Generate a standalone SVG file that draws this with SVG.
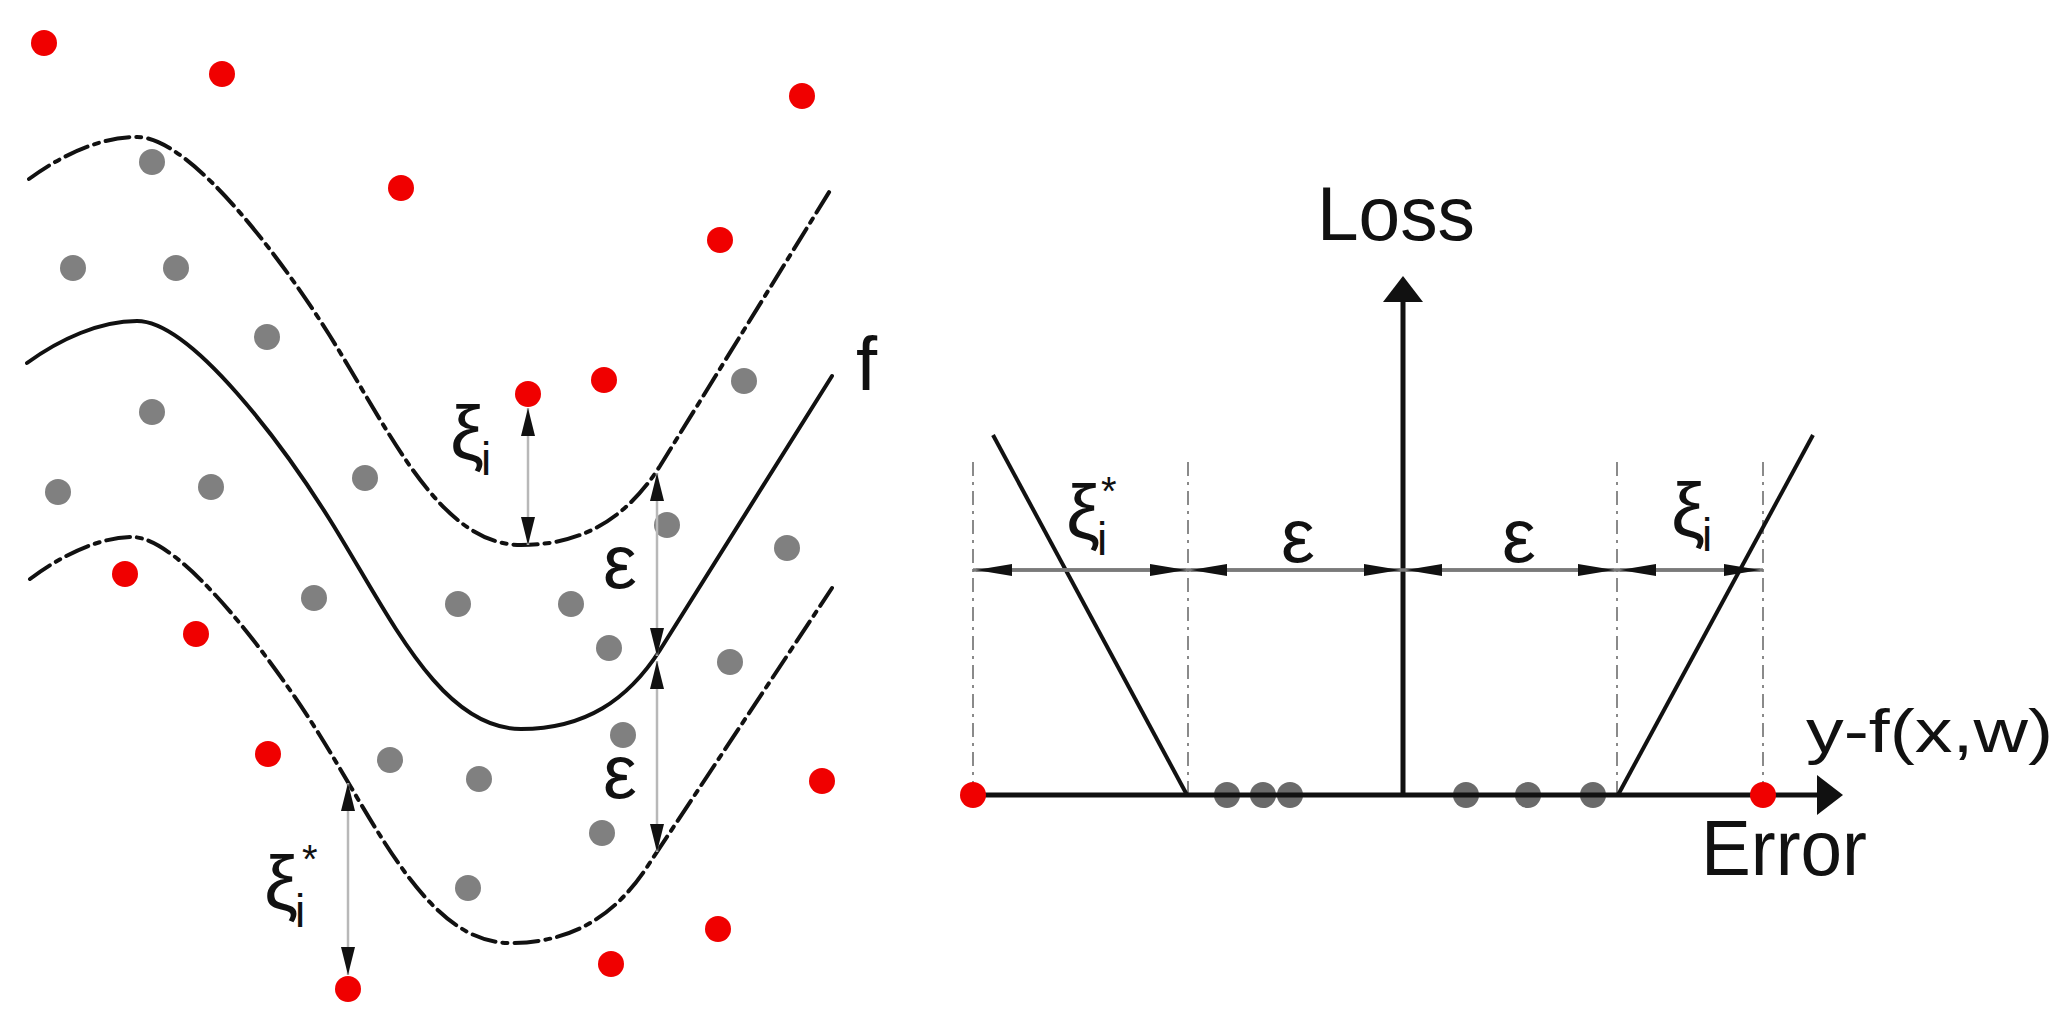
<svg xmlns="http://www.w3.org/2000/svg" width="2065" height="1034" viewBox="0 0 2065 1034">
<defs>
<style>
.red{fill:#f00000}
.gry{fill:#808080}
.gax{fill:#6a6a6a}
.curve{fill:none;stroke:#111;stroke-width:4;stroke-linecap:round}
.dd{stroke-dasharray:24 7 5 7}
.dim{stroke:#b8b8b8;stroke-width:2.5}
.hdim{stroke:#7a7a7a;stroke-width:3.5}
.guide{stroke:#8a8a8a;stroke-width:2;stroke-dasharray:14 6 3 6}
.ax{stroke:#111;stroke-width:5}
.diag{stroke:#111;stroke-width:4}
text{font-family:"Liberation Sans",Arial,sans-serif;fill:#111}
.big{font-size:76px}
.sub{font-size:46px}
.sup{font-size:40px}
</style>
<marker id="ahS" viewBox="0 0 28 14" refX="28" refY="7" markerWidth="28" markerHeight="14" markerUnits="userSpaceOnUse" orient="auto-start-reverse"><path d="M0,0 L28,7 L0,14 z" fill="#111"/></marker>
<marker id="ahD" viewBox="0 0 36 12" refX="36" refY="6" markerWidth="36" markerHeight="12" markerUnits="userSpaceOnUse" orient="auto-start-reverse"><path d="M0,0 L36,6 L0,12 z" fill="#111"/></marker>
<marker id="ahB" viewBox="0 0 26 40" refX="6" refY="20" markerWidth="26" markerHeight="40" markerUnits="userSpaceOnUse" orient="auto"><path d="M0,0 L26,20 L0,40 z" fill="#111"/></marker>
</defs>
<rect width="2065" height="1034" fill="#fff"/>

<g id="left-panel">
  <g id="curves">
    <path id="upper-margin" class="curve dd" d="M29,179 C62,155 100,137 137,137 C192,137 285,264 330,336 C390,432 440,545 521,545 C585,545 628,516 660,466 L831,189"/>
    <path id="f-curve" class="curve" d="M27,363 C60,339 100,321 137,321 C192,321 285,448 330,520 C390,616 440,729 521,729 C585,729 628,700 660,650 L832,376"/>
    <path id="lower-margin" class="curve dd" d="M30,579 C62,555 100,537 132,537 C182,537 274,662 319,734 C379,830 429,943 510,943 C574,943 617,914 649,864 L832,588"/>
  </g>
  <g id="inside-points">
    <circle class="gry" cx="152" cy="162" r="13"/>
    <circle class="gry" cx="73" cy="268" r="13"/>
    <circle class="gry" cx="176" cy="268" r="13"/>
    <circle class="gry" cx="267" cy="337" r="13"/>
    <circle class="gry" cx="152" cy="412" r="13"/>
    <circle class="gry" cx="58" cy="492" r="13"/>
    <circle class="gry" cx="211" cy="487" r="13"/>
    <circle class="gry" cx="365" cy="478" r="13"/>
    <circle class="gry" cx="744" cy="381" r="13"/>
    <circle class="gry" cx="667" cy="525" r="13"/>
    <circle class="gry" cx="787" cy="548" r="13"/>
    <circle class="gry" cx="314" cy="598" r="13"/>
    <circle class="gry" cx="458" cy="604" r="13"/>
    <circle class="gry" cx="571" cy="604" r="13"/>
    <circle class="gry" cx="609" cy="648" r="13"/>
    <circle class="gry" cx="730" cy="662" r="13"/>
    <circle class="gry" cx="623" cy="735" r="13"/>
    <circle class="gry" cx="390" cy="760" r="13"/>
    <circle class="gry" cx="479" cy="779" r="13"/>
    <circle class="gry" cx="602" cy="833" r="13"/>
    <circle class="gry" cx="468" cy="888" r="13"/>
  </g>
  <g id="outside-points">
    <circle class="red" cx="44" cy="43" r="13"/>
    <circle class="red" cx="222" cy="74" r="13"/>
    <circle class="red" cx="802" cy="96" r="13"/>
    <circle class="red" cx="401" cy="188" r="13"/>
    <circle class="red" cx="720" cy="240" r="13"/>
    <circle class="red" cx="604" cy="380" r="13"/>
    <circle class="red" cx="528" cy="394" r="13"/>
    <circle class="red" cx="125" cy="574" r="13"/>
    <circle class="red" cx="196" cy="634" r="13"/>
    <circle class="red" cx="268" cy="754" r="13"/>
    <circle class="red" cx="822" cy="781" r="13"/>
    <circle class="red" cx="718" cy="929" r="13"/>
    <circle class="red" cx="611" cy="964" r="13"/>
    <circle class="red" cx="348" cy="989" r="13"/>
  </g>
  <g id="left-connectors">
    <line class="dim" x1="528" y1="408" x2="528" y2="545" marker-start="url(#ahS)" marker-end="url(#ahS)"/>
    <line class="dim" x1="657" y1="473" x2="657" y2="656" marker-start="url(#ahS)" marker-end="url(#ahS)"/>
    <line class="dim" x1="657" y1="661" x2="657" y2="852" marker-start="url(#ahS)" marker-end="url(#ahS)"/>
    <line class="dim" x1="348" y1="783" x2="348" y2="975" marker-start="url(#ahS)" marker-end="url(#ahS)"/>
  </g>
  <g id="left-labels">
    <text class="big" x="450" y="459">ξ</text><text class="sub" x="481" y="475">i</text>
    <text class="big" x="603" y="588">ε</text>
    <text class="big" x="603" y="798">ε</text>
    <text class="big" x="264" y="909">ξ</text><text class="sup" x="302" y="873">*</text><text class="sub" x="295" y="927">i</text>
    <text class="big" x="856" y="390">f</text>
  </g>
</g>

<g id="right-panel">
  <g id="guides">
    <line class="guide" x1="973" y1="462" x2="973" y2="795"/>
    <line class="guide" x1="1188" y1="462" x2="1188" y2="795"/>
    <line class="guide" x1="1617" y1="462" x2="1617" y2="795"/>
    <line class="guide" x1="1763" y1="462" x2="1763" y2="795"/>
  </g>
  <g id="axis-points">
    <circle class="gax" cx="1227" cy="795" r="13"/>
    <circle class="gax" cx="1263" cy="795" r="13"/>
    <circle class="gax" cx="1290" cy="795" r="13"/>
    <circle class="gax" cx="1466" cy="795" r="13"/>
    <circle class="gax" cx="1528" cy="795" r="13"/>
    <circle class="gax" cx="1593" cy="795" r="13"/>
  </g>
  <g id="axes">
    <line class="ax" x1="973" y1="795" x2="1823" y2="795" marker-end="url(#ahB)"/>
    <line class="ax" x1="1403" y1="795" x2="1403" y2="296" marker-end="url(#ahB)"/>
  </g>
  <g id="loss-function">
    <line class="diag" x1="993" y1="435" x2="1187" y2="795"/>
    <line class="diag" x1="1618" y1="795" x2="1813" y2="435"/>
  </g>
  <g id="axis-outliers">
    <circle class="red" cx="973" cy="795" r="13"/>
    <circle class="red" cx="1763" cy="795" r="13"/>
  </g>
  <g id="dimension-connectors">
    <line class="hdim" x1="973" y1="570" x2="1763" y2="570"/>
    <line class="hdim" x1="976" y1="570" x2="1186" y2="570" marker-start="url(#ahD)" marker-end="url(#ahD)"/>
    <line class="hdim" x1="1191" y1="570" x2="1400" y2="570" marker-start="url(#ahD)" marker-end="url(#ahD)"/>
    <line class="hdim" x1="1406" y1="570" x2="1614" y2="570" marker-start="url(#ahD)" marker-end="url(#ahD)"/>
    <line class="hdim" x1="1620" y1="570" x2="1760" y2="570" marker-start="url(#ahD)" marker-end="url(#ahD)"/>
  </g>
  <g id="right-labels">
    <text class="big" x="1317" y="240" textLength="158" lengthAdjust="spacingAndGlyphs">Loss</text>
    <text x="1701" y="875" font-size="78" textLength="166" lengthAdjust="spacingAndGlyphs">Error</text>
    <text x="1806" y="752" font-size="62" textLength="247" lengthAdjust="spacingAndGlyphs">y-f(x,w)</text>
    <text class="big" x="1066" y="538">ξ</text><text class="sup" x="1101" y="505">*</text><text class="sub" x="1097" y="555">i</text>
    <text class="big" x="1281" y="562">ε</text>
    <text class="big" x="1502" y="562">ε</text>
    <text class="big" x="1671" y="536">ξ</text><text class="sub" x="1702" y="551">i</text>
  </g>
</g>
</svg>
